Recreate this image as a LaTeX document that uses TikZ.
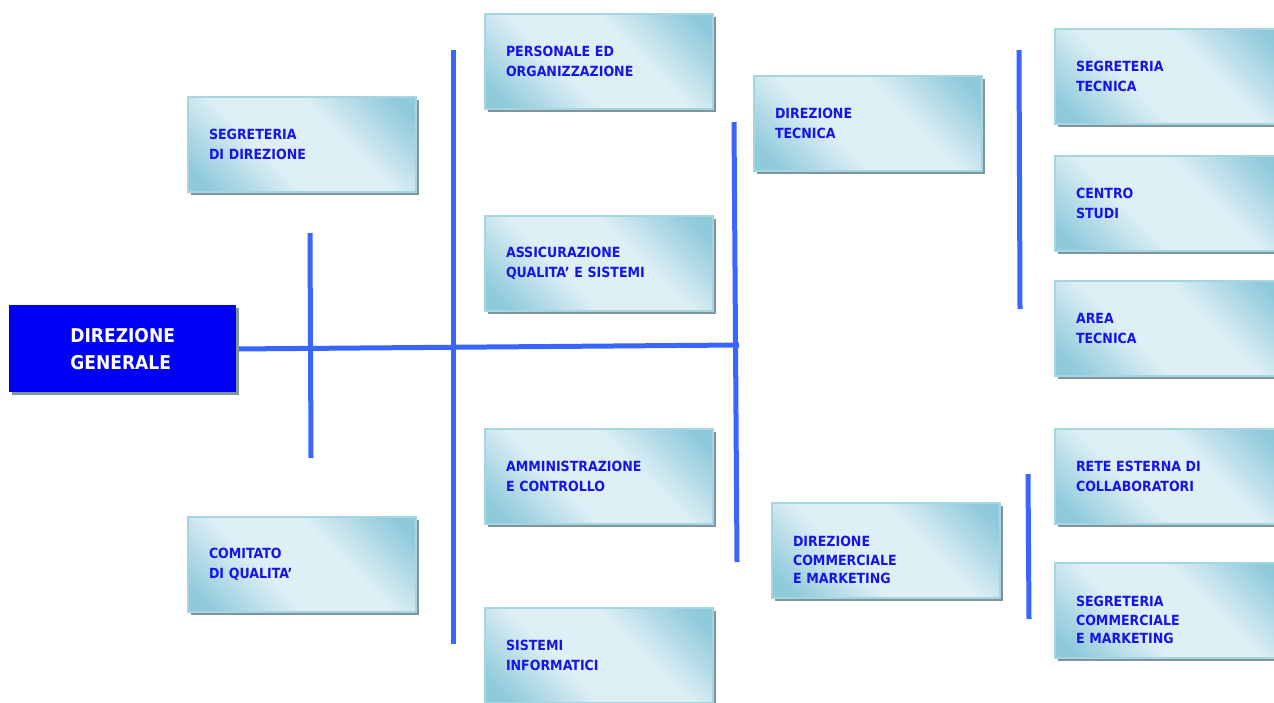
\documentclass[tikz,border=0pt]{standalone}
\usepackage{fontspec}
\setmainfont{DejaVu Sans Condensed}
\usetikzlibrary{shadows}
\definecolor{busblue}{RGB}{58,102,255}
\definecolor{boxdark}{RGB}{143,202,219}
\definecolor{boxlight}{RGB}{222,239,245}
\definecolor{boxedge}{RGB}{165,213,224}
\definecolor{shadowgray}{RGB}{128,148,156}
\definecolor{labelblue}{RGB}{20,20,235}
\pgfdeclareverticalshading{glass}{100bp}{color(0bp)=(boxdark); color(20bp)=(boxdark);
  color(40bp)=(boxlight); color(60bp)=(boxlight); color(80bp)=(boxdark); color(100bp)=(boxdark)}
\newcommand{\lowtext}{\rule{0pt}{30pt}}
\tikzset{
  unit/.style={anchor=north west, minimum width=228pt, minimum height=95pt,
    text width=186pt, inner xsep=21pt, align=left, draw=boxedge, line width=2pt,
    shading=glass, shading angle=-45, text=labelblue,
    font=\bfseries\fontsize{14}{20}\selectfont,
    general shadow={fill=shadowgray, shadow xshift=3pt, shadow yshift=-3pt}},
  three/.style={font=\bfseries\fontsize{14}{18.5}\selectfont},
  head/.style={anchor=north west, minimum width=227pt, minimum height=87pt,
    fill={rgb,255:red,0;green,0;blue,245}, text=white, align=left,
    font=\bfseries\fontsize{19}{27}\selectfont,
    general shadow={fill=shadowgray, shadow xshift=3pt, shadow yshift=-3pt}},
  bus/.style={draw=busblue, line width=5pt}
}
\begin{document}
\begin{tikzpicture}[x=1pt,y=-1pt]
\useasboundingbox (0,0) rectangle (1274,702);
% lines
\coordinate (h1) at (233,349);
\coordinate (h2) at (739,345);
\draw[bus] (h1) -- (h2);
\draw[bus] (310,233) -- (311,458);
\draw[bus] (453,50) -- (453,644);
\draw[bus] (734,122) -- (737,562);
\draw[bus] (1019,50) -- (1020,309);
\draw[bus] (1028,474) -- (1029,619);
% head
\node[head] (dirgen) at (9,305) {DIREZIONE\\GENERALE};
% staff
\node[unit] (segdir) at (187,96) {SEGRETERIA\\DI DIREZIONE};
\node[unit] (comqual) at (187,516) {COMITATO\\DI QUALITA'};
% functions
\node[unit] (persorg) at (484,13) {PERSONALE ED\\ORGANIZZAZIONE};
\node[unit] (assqual) at (484,215) {ASSICURAZIONE\\QUALITA' E SISTEMI};
\node[unit] (ammcon) at (484,428) {AMMINISTRAZIONE\\E CONTROLLO};
\node[unit] (sisinf) at (484,607) {SISTEMI\\INFORMATICI};
% directions
\node[unit] (dirtec) at (753,75) {DIREZIONE\\TECNICA};
\node[unit,three] (dircom) at (771,502) {\lowtext DIREZIONE\\COMMERCIALE\\E MARKETING};
% offices
\node[unit] (segtec) at (1054,28) {SEGRETERIA\\TECNICA};
\node[unit] (censtu) at (1054,155) {CENTRO\\STUDI};
\node[unit] (areatec) at (1054,280) {AREA\\TECNICA};
\node[unit] (retest) at (1054,428) {RETE ESTERNA DI\\COLLABORATORI};
\node[unit,three] (segcom) at (1054,562) {\lowtext SEGRETERIA\\COMMERCIALE\\E MARKETING};
\end{tikzpicture}
\end{document}
